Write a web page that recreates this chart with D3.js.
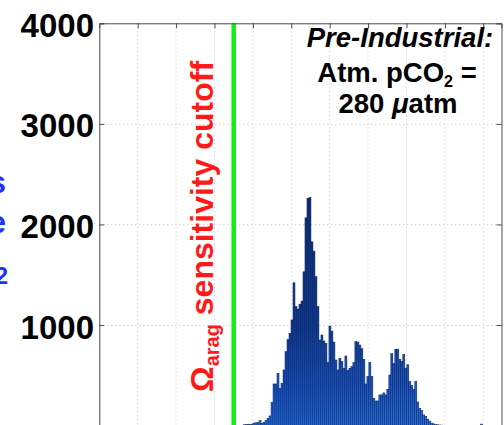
<!DOCTYPE html>
<html><head><meta charset="utf-8">
<script src="https://cdn.jsdelivr.net/npm/d3@7"></script>
<style>
html,body{margin:0;padding:0;background:#fff;overflow:hidden}
svg{display:block}
text{font-family:"Liberation Sans",Arial,Helvetica,sans-serif;font-weight:bold}
</style></head>
<body><svg id="c" width="504" height="425"></svg>
<script>
// ---- data ----
const yTicks = [1000, 2000, 3000, 4000];
const xGridValues = [0.5, 1.0, 1.5, 2.0, 2.5, 3.0, 3.5, 4.0, 4.5, 5.0];
const cutoffValue = 1.75;
const binStart = 1.872;
const binWidth = 0.026;
const binCounts = [
  8, 10, 12, 10, 15, 25, 28, 30, 50, 23,
  33, 50, 73, 96, 228, 414, 414, 520, 371, 421,
  553, 735, 855, 917, 1050, 1420, 1182, 1159, 1205, 1238,
  1529, 2066, 2258, 2268, 1827, 1735, 1480, 1182, 851, 901,
  841, 818, 626, 990, 940, 830, 652, 553, 669, 636,
  570, 692, 546, 570, 586, 626, 834, 830, 801, 765,
  659, 414, 487, 629, 487, 272, 245, 245, 305, 305,
  325, 305, 361, 503, 715, 616, 760, 760, 659, 640,
  710, 570, 605, 437, 400, 360, 437, 235, 172, 150,
  106, 92, 64, 45, 25, 17, 10, 8, 6, 5,
  4, 3, 0, 0, 0, 0, 0, 0, 0, 0,
  0, 0, 0, 0, 0, 0, 0, 0, 0, 15
];
const titleLines = ["Pre-Industrial:", "Atm. pCO", "280 "];
const cutoffLabel = ["Ω", "arag", " sensitivity cutoff"];
const yLabelLines = ["Number of grid cells", "at the sea surface", "with given pCO"];

// ---- layout ----
const svg = d3.select("#c");
const plotL = 99.3, plotR = 501.5, plotT = 23.3, zeroY = 425.6;
const x = d3.scaleLinear().domain([0, 5.237]).range([plotL, plotR]);
const y = d3.scaleLinear().domain([0, 4000]).range([zeroY, plotT]);

// gradient for bars (absolute y)
const defs = svg.append("defs");
const g = defs.append("linearGradient").attr("id", "barGrad")
  .attr("gradientUnits", "userSpaceOnUse")
  .attr("x1", 0).attr("x2", 0).attr("y1", 425).attr("y2", 200);
g.append("stop").attr("offset", 0).attr("stop-color", "#2374f4");
g.append("stop").attr("offset", 0.18).attr("stop-color", "#185ad6");
g.append("stop").attr("offset", 0.45).attr("stop-color", "#0f40a4");
g.append("stop").attr("offset", 1).attr("stop-color", "#0c3288");

// grid lines
svg.append("g").selectAll("line").data(xGridValues).join("line")
  .attr("x1", d => x(d)).attr("x2", d => x(d))
  .attr("y1", plotT).attr("y2", 425)
  .attr("stroke", "#c4c4c4").attr("stroke-width", 1)
  .attr("stroke-dasharray", "1,3");
svg.append("g").selectAll("line").data(yTicks.filter(d => d < 4000)).join("line")
  .attr("x1", plotL).attr("x2", plotR)
  .attr("y1", d => Math.round(y(d)) + 0.5).attr("y2", d => Math.round(y(d)) + 0.5)
  .attr("stroke", "#c4c4c4").attr("stroke-width", 1)
  .attr("stroke-dasharray", "1,3");

// bars
const bins = binCounts.map((c, i) => ({x0: binStart + i * binWidth, x1: binStart + (i + 1) * binWidth, c}));
svg.append("g").selectAll("rect").data(bins.filter(b => b.c > 0)).join("rect")
  .attr("x", d => x(d.x0))
  .attr("width", d => x(d.x1) - x(d.x0))
  .attr("y", d => y(d.c))
  .attr("height", d => zeroY - y(d.c))
  .attr("fill", "url(#barGrad)")
  .attr("stroke", "#0d1a3c").attr("stroke-width", 0.5);

// cutoff line
svg.append("line")
  .attr("x1", x(cutoffValue)).attr("x2", x(cutoffValue))
  .attr("y1", plotT).attr("y2", 425)
  .attr("stroke", "#11ee11").attr("stroke-width", 4.5);

// axes box
const axisColor = "#4a4a4a";
svg.append("g").attr("transform", `translate(${plotL},0)`)
  .call(d3.axisLeft(y).tickValues(yTicks).tickSize(-5).tickFormat(""))
  .call(a => a.selectAll("path,line").attr("stroke", axisColor));
svg.append("g").attr("transform", `translate(${plotR},0)`)
  .call(d3.axisRight(y).tickValues(yTicks).tickSize(-5).tickFormat(""))
  .call(a => a.selectAll("path,line").attr("stroke", axisColor));
svg.append("g").attr("transform", `translate(0,${plotT})`)
  .call(d3.axisTop(x).tickValues(xGridValues).tickSize(-5).tickFormat(""))
  .call(a => a.selectAll("path,line").attr("stroke", axisColor));

// y tick labels
svg.append("g").selectAll("text").data(yTicks).join("text")
  .attr("x", 94).attr("y", d => y(d) + 13.5)
  .attr("text-anchor", "end")
  .attr("font-size", 33).attr("fill", "#000")
  .text(d => d);

// top-right annotation
const tx = 400;
svg.append("text").attr("x", tx).attr("y", 46.7).attr("text-anchor", "middle")
  .attr("font-size", 27.5).attr("font-style", "italic").text(titleLines[0]);
const t2 = svg.append("text").attr("x", tx - 3).attr("y", 81.7).attr("text-anchor", "middle")
  .attr("font-size", 27.5);
t2.append("tspan").text(titleLines[1]);
t2.append("tspan").attr("font-size", 16).attr("dy", 5).text("2");
t2.append("tspan").attr("dy", -5).text(" =");
const t3 = svg.append("text").attr("x", tx - 2).attr("y", 113.3).attr("text-anchor", "middle")
  .attr("font-size", 27.5);
t3.append("tspan").text(titleLines[2]);
t3.append("tspan").attr("font-style", "italic").text("μ");
t3.append("tspan").text("atm");

// rotated cutoff label
const rl = svg.append("text")
  .attr("transform", "translate(213,392) rotate(-90)")
  .attr("font-size", 32).attr("fill", "#ff1a1a");
rl.append("tspan").text(cutoffLabel[0]);
rl.append("tspan").attr("font-size", 20).attr("dy", 6).text(cutoffLabel[1]);
rl.append("tspan").attr("dy", -6).text(cutoffLabel[2]);

// clipped y-axis label (blue, mostly outside the view, as in the reference)
const blue = "#1a33ff";
svg.append("text").attr("x", 6).attr("y", 193).attr("text-anchor", "end")
  .attr("font-size", 31).attr("fill", blue).text(yLabelLines[0]);
svg.append("text").attr("x", 6).attr("y", 233).attr("text-anchor", "end")
  .attr("font-size", 31).attr("fill", blue).text(yLabelLines[1]);
const yl3 = svg.append("text").attr("x", 8).attr("y", 276).attr("text-anchor", "end")
  .attr("font-size", 31).attr("fill", blue);
yl3.append("tspan").text(yLabelLines[2]);
yl3.append("tspan").attr("font-size", 24).attr("dy", 8).text("2");
</script></body></html>
